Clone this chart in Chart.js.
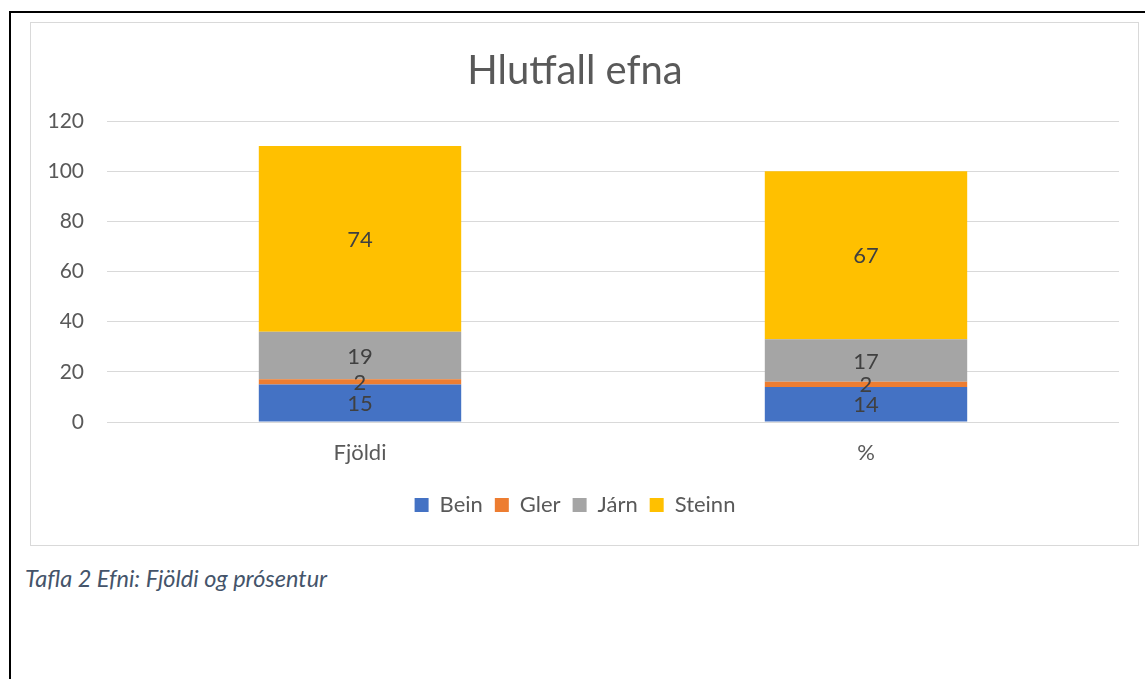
<!DOCTYPE html>
<html>
<head>
<meta charset="utf-8">
<script src="https://cdn.jsdelivr.net/npm/chart.js@4.4.1/dist/chart.umd.min.js"></script>
<style>
  body { margin: 0; background: #fff; font-family: Lato, "Liberation Sans", sans-serif; }
  .frame { position: absolute; left: 9px; top: 11px; width: 1200px; height: 700px;
           border-left: 2px solid #000; border-top: 2px solid #000; }
  .box { position: absolute; left: 30px; top: 22px; width: 1107px; height: 522px;
         border: 1px solid #d9d9d9; background: #fff; }
  .caption { position: absolute; left: 25px; top: 564px; font-size: 23.5px;
             font-style: italic; color: #44546a; }
</style>
</head>
<body>
<div class="frame"></div>
<div class="box"><canvas id="chart" width="1107" height="522"></canvas></div>
<div class="caption">Tafla 2 Efni: Fjöldi og prósentur</div>
<script>
  // Data
  const categories = ["Fjöldi", "%"];
  const bein = [15, 14];
  const gler = [2, 2];
  const jarn = [19, 17];
  const steinn = [74, 67];

  const textColor = "#595959";

  // Draw values in the middle of each bar segment
  const barLabels = {
    id: "barLabels",
    afterDatasetsDraw(chart) {
      const ctx = chart.ctx;
      ctx.save();
      ctx.font = "22px Lato, sans-serif";
      ctx.fillStyle = "#404040";
      ctx.textAlign = "center";
      ctx.textBaseline = "middle";
      chart.data.datasets.forEach((ds, i) => {
        chart.getDatasetMeta(i).data.forEach((bar, j) => {
          const mid = (bar.y + bar.base) / 2;
          ctx.fillText(ds.data[j], bar.x, mid + 1);
        });
      });
      ctx.restore();
    }
  };

  const ctx = document.getElementById("chart").getContext("2d");
  new Chart(ctx, {
    type: "bar",
    data: {
      labels: categories,
      datasets: [
        { label: "Bein", data: bein, backgroundColor: "#4472c4" },
        { label: "Gler", data: gler, backgroundColor: "#ed7d31" },
        { label: "Járn", data: jarn, backgroundColor: "#a5a5a5" },
        { label: "Steinn", data: steinn, backgroundColor: "#ffc000" }
      ]
    },
    options: {
      responsive: false,
      animation: false,
      layout: { padding: { left: 0, right: 19, top: 0, bottom: 19 } },
      datasets: { bar: { categoryPercentage: 1, barPercentage: 0.4 } },
      plugins: {
        title: {
          display: true,
          text: "Hlutfall efna",
          color: textColor,
          font: { size: 40, weight: "normal", family: "Lato" },
          padding: { top: 24, bottom: 26 }
        },
        legend: {
          position: "bottom",
          labels: {
            color: textColor,
            font: { size: 22, family: "Lato" },
            boxWidth: 14,
            boxHeight: 14,
            padding: 12
          }
        },
        tooltip: { enabled: false }
      },
      scales: {
        x: {
          stacked: true,
          afterFit: (s) => { s.height = 60; },
          grid: { display: false },
          border: { display: false },
          ticks: { color: textColor, font: { size: 22, family: "Lato" }, padding: 10 }
        },
        y: {
          stacked: true,
          min: 0,
          max: 120,
          afterFit: (s) => { s.width = 76; },
          grid: { color: "#d9d9d9", drawTicks: false },
          border: { display: false },
          ticks: { stepSize: 20, color: textColor, font: { size: 21, family: "Lato" }, padding: 23 }
        }
      }
    },
    plugins: [barLabels]
  });
</script>
</body>
</html>
